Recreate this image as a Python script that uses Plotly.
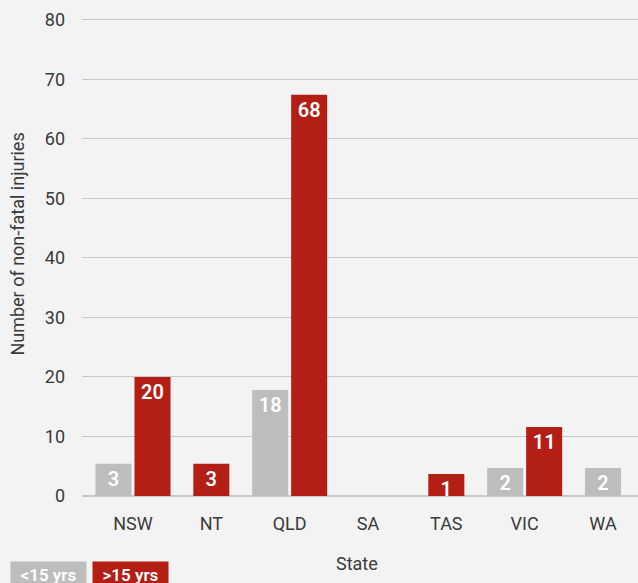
import plotly.graph_objects as go

states = ["NSW", "NT", "QLD", "SA", "TAS", "VIC", "WA"]
# counts shown as labels
count_lt15 = [3, None, 18, None, None, 2, 2]
count_gt15 = [20, 3, 68, None, 1, 11, None]
# bar heights as drawn in the picture (small bars are drawn taller than their count)
height_lt15 = [5.4, None, 17.8, None, None, 4.7, 4.7]
height_gt15 = [20.0, 5.4, 67.4, None, 3.7, 11.6, None]
y_ticks = [0, 10, 20, 30, 40, 50, 60, 70, 80]

RED = "#B31E15"
GRAY = "#BDBDBD"
BG = "#F3F3F3"
TXT = "#3A3A3A"
FONT = "Roboto"

W = 0.46
G = 0.038

def offsets(this, other, first):
    out = []
    for a, b in zip(this, other):
        if a is None:
            out.append(0)
        elif b is None:
            out.append(-W / 2)
        else:
            out.append(-(W + G / 2) if first else G / 2)
    return out

def labels(c):
    return ["" if v is None else str(v) for v in c]

fig = go.Figure()
fig.add_trace(go.Bar(
    x=states, y=height_lt15, width=W,
    offset=offsets(height_lt15, height_gt15, True),
    marker=dict(color=GRAY, line=dict(width=0)),
    text=labels(count_lt15), textposition="inside", insidetextanchor="end",
    textfont=dict(color="white", size=20, family=FONT, weight=600),
    textangle=0, cliponaxis=False, showlegend=False, name="<15 yrs",
))
fig.add_trace(go.Bar(
    x=states, y=height_gt15, width=W,
    offset=offsets(height_gt15, height_lt15, False),
    marker=dict(color=RED, line=dict(width=0)),
    text=labels(count_gt15), textposition="inside", insidetextanchor="end",
    textfont=dict(color="white", size=20, family=FONT, weight=600),
    textangle=0, cliponaxis=False, showlegend=False, name=">15 yrs",
))

fig.update_layout(
    width=638, height=583,
    margin=dict(l=82, r=0, t=18, b=87),
    paper_bgcolor=BG, plot_bgcolor=BG,
    font=dict(family=FONT, color=TXT, size=18),
    barmode="overlay",
    uniformtext=dict(minsize=20, mode="show"),
    xaxis=dict(
        range=[-0.651, 6.447], showgrid=False, zeroline=False, showline=False,
        ticks="", tickfont=dict(size=18, color=TXT), ticklabelstandoff=15,
        automargin=False, fixedrange=True,
    ),
    yaxis=dict(
        range=[0, 80.3], tickvals=y_ticks, showgrid=True, gridcolor="#C9C9C9",
        gridwidth=1, zeroline=True, zerolinecolor="#C9C9C9", zerolinewidth=1.5,
        showline=False, ticks="", tickfont=dict(size=18, color=TXT),
        ticklabelstandoff=16, automargin=False, fixedrange=True,
    ),
    annotations=[
        dict(text="Number of non-fatal injuries", xref="paper", yref="paper",
             x=-0.116, y=0.527, textangle=-90, showarrow=False,
             font=dict(size=18, color=TXT), xanchor="center", yanchor="middle"),
        dict(text="State", xref="paper", yref="paper", x=0.495, y=-0.142,
             showarrow=False, font=dict(size=18, color=TXT),
             xanchor="center", yanchor="middle"),
        dict(text="<15 yrs", xref="paper", yref="paper", x=-0.1295, y=-0.136,
             xanchor="left", yanchor="top", showarrow=False, bgcolor=GRAY,
             font=dict(size=17, color="white", weight=600), borderpad=3, width=69),
        dict(text=">15 yrs", xref="paper", yref="paper", x=0.018, y=-0.136,
             xanchor="left", yanchor="top", showarrow=False, bgcolor=RED,
             font=dict(size=17, color="white", weight=600), borderpad=3, width=69),
    ],
)

fig.write_html(
    "out.html",
    config={"displayModeBar": False, "staticPlot": True},
    post_script="document.body.style.margin='0';document.body.style.background='%s';" % BG,
)
